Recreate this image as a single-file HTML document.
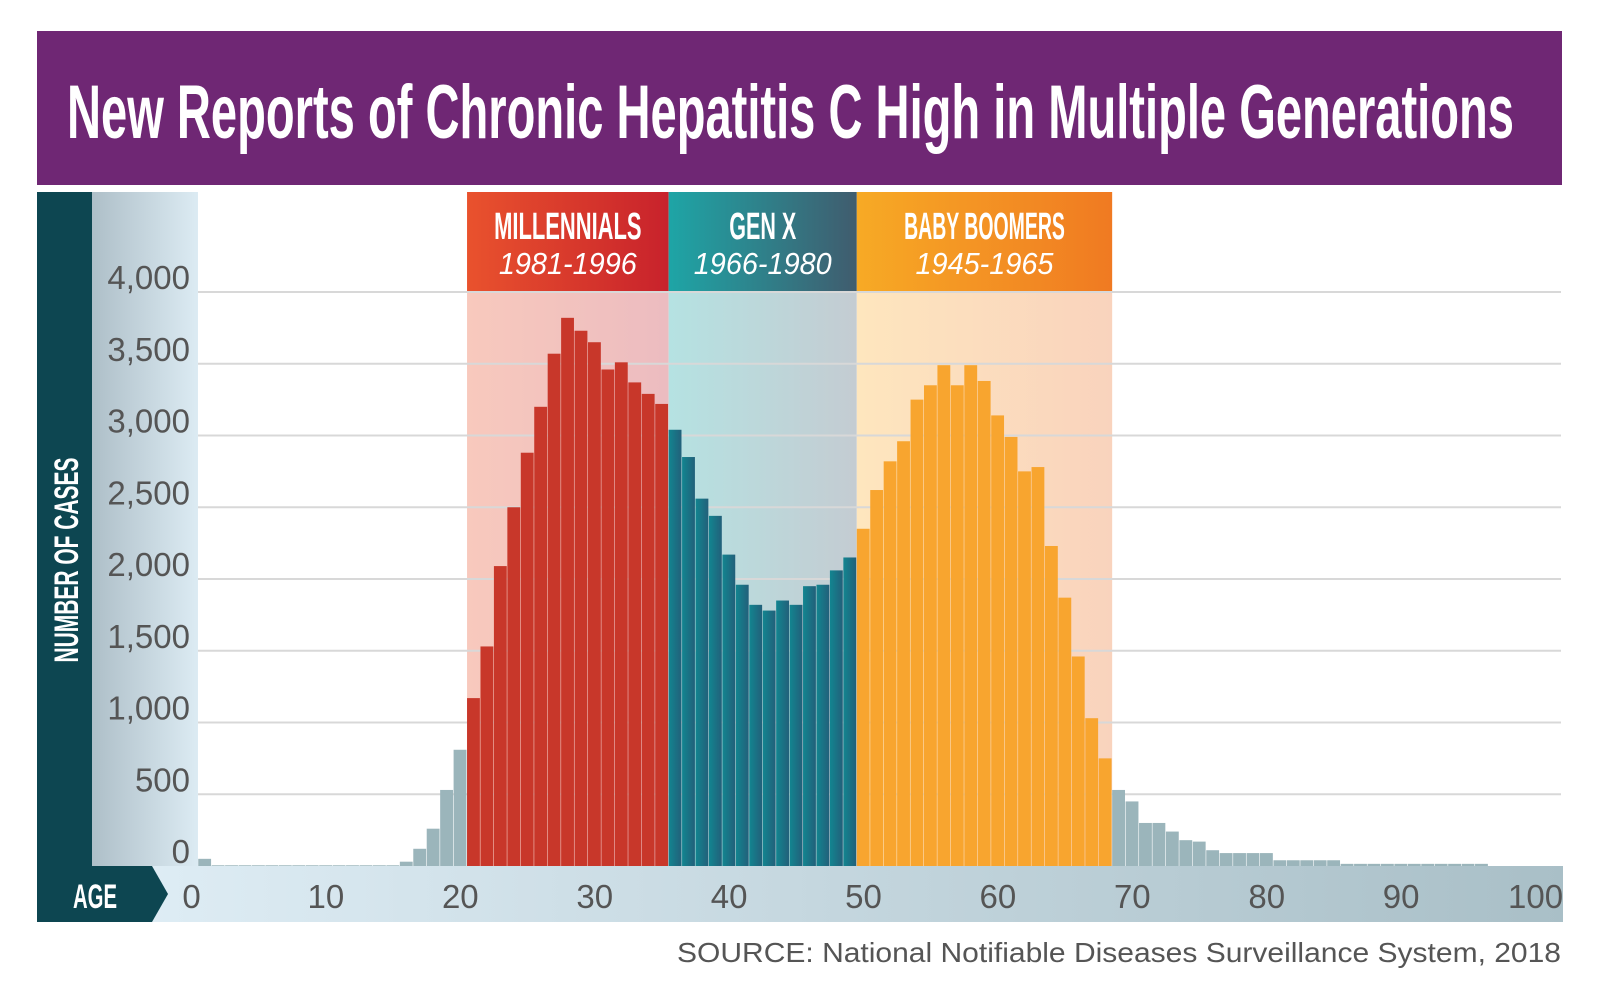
<!DOCTYPE html>
<html><head><meta charset="utf-8"><style>
html,body{margin:0;padding:0;background:#fff;}
svg{display:block;font-family:"Liberation Sans",sans-serif;}
</style></head><body>
<svg id="chart" width="1600" height="1000" viewBox="0 0 1600 1000">
<defs>
<linearGradient id="gPanel" x1="0" x2="1"><stop offset="0" stop-color="#aebfc8"/><stop offset="1" stop-color="#dcebf3"/></linearGradient>
<linearGradient id="gAxis" x1="0" x2="1"><stop offset="0" stop-color="#e2f0f8"/><stop offset="1" stop-color="#a9bfc7"/></linearGradient>
<linearGradient id="gMilH" x1="0" x2="1"><stop offset="0" stop-color="#e9522d"/><stop offset="1" stop-color="#c8222c"/></linearGradient>
<linearGradient id="gGenH" x1="0" x2="1"><stop offset="0" stop-color="#1ea5a6"/><stop offset="1" stop-color="#405c6e"/></linearGradient>
<linearGradient id="gBooH" x1="0" x2="1"><stop offset="0" stop-color="#f7aa25"/><stop offset="1" stop-color="#f07a22"/></linearGradient>
<linearGradient id="gMilB" x1="0" x2="1"><stop offset="0" stop-color="#f8c9bd"/><stop offset="1" stop-color="#ecbcc0"/></linearGradient>
<linearGradient id="gGenB" x1="0" x2="1"><stop offset="0" stop-color="#b5e2e2"/><stop offset="1" stop-color="#c4ccd2"/></linearGradient>
<linearGradient id="gBooB" x1="0" x2="1"><stop offset="0" stop-color="#fee6be"/><stop offset="1" stop-color="#f9d3bd"/></linearGradient>
<linearGradient id="gGenBar" x1="0" x2="1"><stop offset="0" stop-color="#128590"/><stop offset="1" stop-color="#22607a"/></linearGradient>
</defs>
<rect x="37" y="31" width="1525" height="154" fill="#6f2774"/>
<text x="67" y="138" font-size="76" font-weight="bold" fill="#fff" textLength="1447" lengthAdjust="spacingAndGlyphs">New Reports of Chronic Hepatitis C High in Multiple Generations</text>
<rect x="37" y="192" width="55" height="676" fill="#0d4651"/>
<rect x="92" y="192" width="106" height="676" fill="url(#gPanel)"/>
<text transform="translate(78,560) rotate(-90)" text-anchor="middle" font-size="34" font-weight="bold" fill="#fff" textLength="205" lengthAdjust="spacingAndGlyphs">NUMBER OF CASES</text>
<g id="bands"></g>
<g id="grid"></g>
<g id="bars"></g>
<rect x="37" y="866" width="1526" height="56" fill="url(#gAxis)"/>
<polygon points="37,866 152,866 168,894 152,922 37,922" fill="#0d4651"/>
<text x="95" y="908" text-anchor="middle" font-size="34" font-weight="bold" fill="#fff" textLength="44" lengthAdjust="spacingAndGlyphs">AGE</text>
<g id="xlabels"></g>
<text x="1561" y="962" text-anchor="end" font-size="28" fill="#555" textLength="884" lengthAdjust="spacingAndGlyphs">SOURCE: National Notifiable Diseases Surveillance System, 2018</text>
</svg>
<script>
const ages = [];
for (let a = 1; a <= 100; a++) ages.push(a);
const cases = [50,5,5,5,5,5,5,5,5,5,5,5,5,5,5,30,120,260,530,810,
1170,1530,2090,2500,2880,3200,3570,3820,3730,3650,3460,3510,3370,3290,3220,
3040,2850,2560,2440,2170,1960,1820,1780,1850,1820,1950,1960,2060,2150,
2350,2620,2820,2960,3250,3350,3490,3350,3490,3380,3140,2990,2750,2780,2230,1870,1460,1030,750,
530,450,300,300,240,180,170,110,90,90,90,90,40,40,40,40,40,15,15,15,15,15,15,15,15,15,15,15,0,0,0,0];
const yTicks = [0,500,1000,1500,2000,2500,3000,3500,4000];
const yTickLabels = ["0","500","1,000","1,500","2,000","2,500","3,000","3,500","4,000"];
const xTicks = [0,10,20,30,40,50,60,70,80,90,100];
const genNames = ["MILLENNIALS","GEN X","BABY BOOMERS"];
const genYears = ["1981-1996","1966-1980","1945-1965"];
const genStart = [21,36,50];
const genEnd = [36,50,69];

const NS = "http://www.w3.org/2000/svg";
const X0 = 184.8, XW = 13.44, Y0 = 866, YK = 574/4000;
const xs = a => X0 + a * XW;
const ys = v => Y0 - v * YK;
function mk(tag, attrs, parent) {
  const e = document.createElementNS(NS, tag);
  for (const k in attrs) e.setAttribute(k, attrs[k]);
  parent.appendChild(e);
  return e;
}
const bandsG = document.getElementById('bands');
const gridG = document.getElementById('grid');
const barsG = document.getElementById('bars');
const xl = document.getElementById('xlabels');
const hdr = ['gMilH','gGenH','gBooH'], bg = ['gMilB','gGenB','gBooB'], barCol = ['#c8372a','url(#gGenBar)','#f8a52f'];
const bandKeys = ['millennials','gen-x','baby-boomers'];
for (let i = 0; i < 3; i++) {
  const x1 = xs(genStart[i]), x2 = xs(genEnd[i]);
  const b = mk('rect', {x:x1, y:292, width:x2-x1, height:Y0-292, fill:'url(#'+bg[i]+')'}, bandsG);
  
  
  const h = mk('rect', {x:x1, y:192, width:x2-x1, height:100, fill:'url(#'+hdr[i]+')'}, bandsG);
  
  
  const t = mk('text', {x:(x1+x2)/2, y:239, 'text-anchor':'middle', 'font-size':38, 'font-weight':'bold', fill:'#fff', textLength: genNames[i].length*13.4, lengthAdjust:'spacingAndGlyphs'}, bandsG);
  t.textContent = genNames[i];
  
  
  const t2 = mk('text', {x:(x1+x2)/2, y:274, 'text-anchor':'middle', 'font-size':31, 'font-style':'italic', fill:'#fff', textLength:138, lengthAdjust:'spacingAndGlyphs'}, bandsG);
  t2.textContent = genYears[i];
  
  
}
yTicks.forEach((v, i) => {
  if (v > 0) {
    const l = mk('line', {x1:198, x2:1561, y1:ys(v), y2:ys(v), stroke:'#d8d8d8', 'stroke-width':2}, gridG);
    
    
  }
  const t = mk('text', {x:190, y:ys(v)-3, 'text-anchor':'end', 'font-size':33, fill:'#555'}, gridG);
  t.textContent = yTickLabels[i];
  
  
});
function colorFor(a) {
  for (let i = 0; i < 3; i++) if (a >= genStart[i] && a < genEnd[i]) return barCol[i];
  return '#9bb5bb';
}
ages.forEach((a, i) => {
  const v = cases[i];
  if (v <= 0) return;
  const r = mk('rect', {x:xs(a), y:ys(v), width:XW-0.6, height:Y0-ys(v), fill:colorFor(a)}, barsG);
  
  
});
xTicks.forEach(a => {
  const t = mk('text', {x:xs(a)+XW/2, y:908, 'text-anchor':'middle', 'font-size':33, fill:'#555'}, xl);
  t.textContent = a;
  
  
});
</script>
</body></html>
